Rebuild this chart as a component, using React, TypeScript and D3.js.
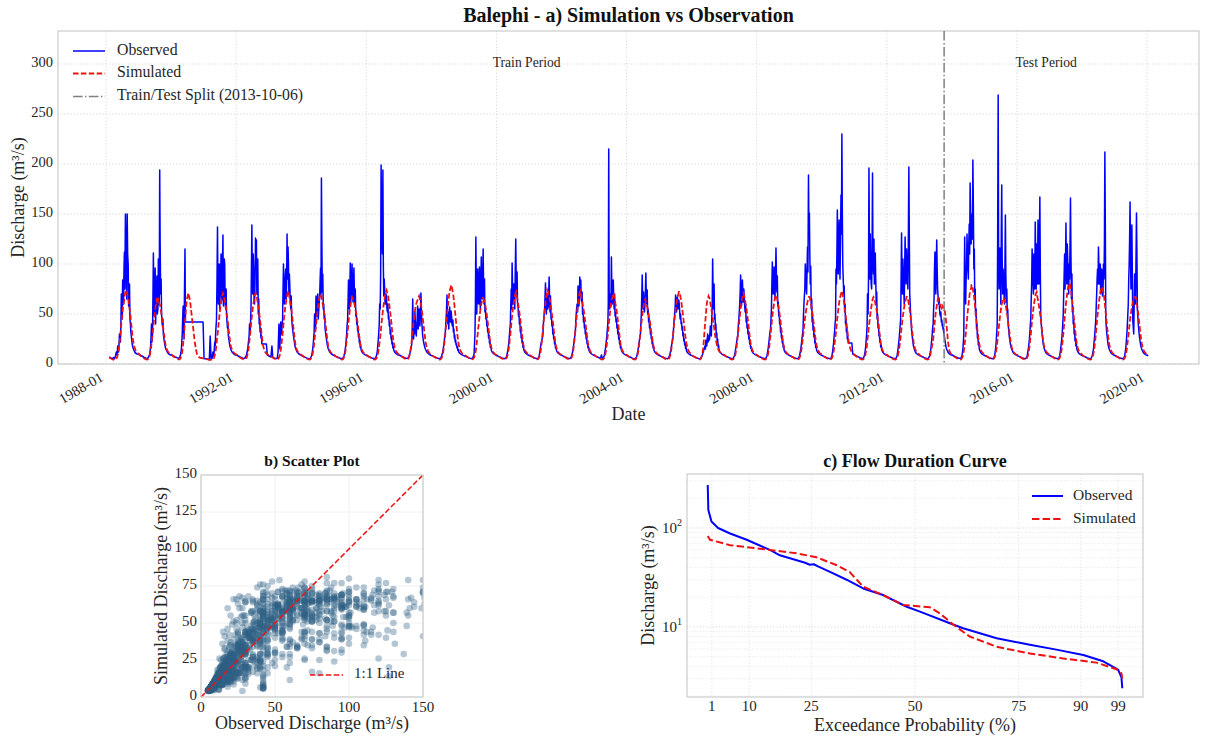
import React from 'react';
import * as d3 from 'd3';

// ---------------- DATA ----------------
// Dekadal (day 5, 15, 25 of each month) discharge values, m3/s.
// The 1988 series starts in February; 2020 only covers early January.
const years = [1988, 1989, 1990, 1991, 1992, 1993, 1994, 1995, 1996, 1997, 1998, 1999, 2000, 2001, 2002, 2003, 2004, 2005, 2006, 2007, 2008, 2009, 2010, 2011, 2012, 2013, 2014, 2015, 2016, 2017, 2018, 2019, 2020];

const observedByYear: number[][] = [
  [7, 6.5, 6, 5.8, 5.5, 6.5, 5.2, 8, 12, 9, 15, 19, 26, 38, 55, 84, 60, 112, 150, 88, 150, 100, 62, 45, 32, 24, 18, 14.5, 12.5, 11, 10.5, 10, 9.8],
  [9.5, 9, 8.5, 8, 7.5, 7, 6.6, 6.2, 5.9, 5.6, 6, 7.5, 10, 18, 40, 30, 111, 48, 96, 62, 88, 55, 74, 194, 70, 50, 38, 30, 23, 18, 14.5, 12.5, 11, 10, 9.5, 9],
  [9, 8.5, 8, 7.5, 7, 6.8, 6.4, 6, 5.8, 6.5, 9, 14, 30, 58, 25, 115, 42, 42, 42, 42, 42, 42, 42, 42, 42, 42, 42, 42, 42, 42, 42, 42, 42, 42, 42, 42],
  [5.5, 5.3, 5.2, 5, 4.8, 4.6, 4.5, 28, 5, 5.5, 12, 8, 22, 30, 45, 137, 60, 100, 72, 110, 64, 129, 80, 100, 55, 48, 36, 28, 22, 17, 14, 12, 11, 10, 9.5, 9],
  [9, 8.5, 8, 7.5, 7, 6.6, 6.2, 5.9, 5.6, 5.8, 7, 9, 13, 20, 28, 30, 55, 139, 70, 95, 60, 126, 124, 85, 50, 40, 32, 26, 20, 20, 20, 20, 20, 20, 9, 8.5],
  [8, 7.5, 7, 18, 6.5, 6.2, 5.9, 5.6, 5.4, 5.5, 12, 40, 15, 42, 30, 45, 100, 60, 88, 65, 130, 117, 70, 78, 55, 45, 35, 28, 22, 17, 14, 12, 11, 10, 9.5, 9],
  [8.5, 8, 7.5, 7, 6.6, 6.2, 5.9, 5.6, 5.3, 5.2, 6, 8, 12, 20, 32, 40, 68, 48, 70, 52, 65, 96, 186, 72, 55, 45, 35, 28, 22, 17, 14, 12, 11, 10, 9.5, 9],
  [8.5, 8, 7.6, 7.2, 6.8, 6.4, 6, 5.7, 5.4, 5.2, 6, 8, 12, 19, 30, 45, 84, 55, 101, 70, 100, 62, 96, 58, 48, 40, 33, 27, 21, 16.5, 13.5, 11.8, 10.8, 10, 9.4, 9],
  [8.5, 8, 7.5, 7.1, 6.7, 6.3, 6, 5.7, 5.4, 5.3, 6.2, 8.5, 14, 25, 40, 55, 199, 126, 194, 68, 74, 60, 66, 52, 45, 38, 30, 25, 20, 16, 13.5, 11.8, 10.8, 10, 9.4, 9],
  [9, 8.5, 8, 7.5, 7.1, 6.7, 6.3, 6, 5.7, 5.5, 6.2, 8, 11, 15, 20, 65, 25, 30, 40, 28, 45, 35, 55, 38, 71, 42, 28, 22, 18, 15, 13, 11.5, 10.5, 9.8, 9.2, 8.8],
  [8.5, 8, 7.6, 7.2, 6.8, 6.4, 6, 5.7, 5.4, 5.3, 6, 8, 11, 16, 22, 30, 45, 69, 40, 35, 57, 42, 48, 38, 32, 26, 22, 19, 16, 13.5, 12, 10.8, 10, 9.4, 9, 8.6],
  [8.2, 7.8, 7.4, 7, 6.6, 6.2, 5.9, 5.6, 5.4, 5.5, 7, 10, 30, 127, 50, 95, 60, 97, 55, 107, 65, 115, 60, 52, 45, 38, 32, 26, 21, 16.5, 13.5, 11.8, 10.8, 10, 9.4, 9],
  [8.5, 8, 7.6, 7.2, 6.8, 6.4, 6, 5.7, 5.4, 5.3, 6, 8, 12, 18, 28, 40, 75, 101, 60, 80, 55, 125, 70, 60, 48, 40, 32, 26, 21, 16.5, 13.5, 11.8, 10.8, 10, 9.4, 9],
  [8.5, 8, 7.6, 7.2, 6.8, 6.4, 6, 5.7, 5.4, 5.3, 6, 8, 14, 20, 24, 28, 45, 55, 81, 50, 62, 58, 87, 52, 45, 38, 30, 25, 20, 16, 13.5, 11.8, 10.8, 10, 9.4, 9],
  [8.6, 8.1, 7.7, 7.3, 6.9, 6.5, 6.1, 5.8, 5.5, 5.4, 6.2, 8.2, 12, 18, 25, 32, 50, 60, 78, 58, 87, 84, 62, 50, 42, 36, 30, 25, 20, 16, 13.5, 11.8, 10.8, 10, 9.4, 9],
  [8.5, 8, 7.6, 7.2, 6.8, 6.4, 6, 5.7, 9, 5.4, 6, 8, 13, 20, 28, 40, 215, 55, 70, 107, 60, 84, 55, 48, 42, 36, 30, 25, 20, 16, 13.5, 11.8, 10.8, 10, 9.4, 9],
  [8.4, 7.9, 7.5, 7.1, 6.7, 6.3, 5.9, 5.6, 5.3, 5.2, 5.9, 7.8, 12, 18, 24, 30, 50, 89, 55, 62, 58, 91, 60, 50, 42, 36, 30, 25, 20, 16, 13.5, 11.8, 10.8, 10, 9.4, 9],
  [8.5, 8, 7.6, 7.2, 6.8, 6.4, 6, 5.7, 5.4, 5.3, 6, 8, 11, 16, 21, 26, 40, 50, 69, 52, 67, 58, 60, 45, 40, 34, 28, 23, 19, 15.5, 13, 11.5, 10.5, 9.8, 9.2, 8.8],
  [8.4, 7.9, 7.5, 7.1, 6.7, 6.3, 5.9, 5.6, 5.3, 5.2, 5.9, 7.8, 10, 13, 16, 15, 20, 25, 22, 28, 30, 35, 45, 105, 55, 45, 35, 28, 22, 17, 14, 12, 11, 10, 9.4, 9],
  [8.5, 8, 7.6, 7.2, 6.8, 6.4, 6, 5.7, 5.4, 5.3, 6, 8, 12, 18, 24, 30, 45, 60, 89, 58, 84, 62, 66, 52, 42, 36, 30, 25, 20, 16, 13.5, 11.8, 10.8, 10, 9.4, 9],
  [8.5, 8, 7.6, 7.2, 6.8, 6.4, 6, 5.7, 5.4, 5.3, 6, 8, 13, 20, 28, 35, 55, 102, 70, 97, 65, 116, 72, 58, 48, 40, 32, 26, 21, 16.5, 13.5, 11.8, 10.8, 10, 9.4, 9],
  [8.5, 8, 7.6, 7.2, 6.8, 6.4, 6, 5.7, 5.4, 5.3, 6, 8, 12, 18, 26, 35, 60, 75, 90, 70, 117, 189, 151, 80, 55, 42, 34, 27, 21, 16.5, 13.5, 11.8, 10.8, 10, 9.4, 9],
  [8.5, 8, 7.6, 7.2, 6.8, 6.4, 6, 5.7, 5.4, 5.3, 6, 8, 14, 22, 32, 45, 80, 154, 90, 144, 85, 169, 230, 100, 70, 52, 40, 32, 25, 21, 21, 21, 21, 21, 10, 9.5],
  [9, 8.5, 8, 7.5, 7.1, 6.7, 6.3, 6, 5.7, 5.5, 6.2, 8.5, 14, 24, 38, 50, 196, 85, 100, 75, 191, 90, 80, 111, 60, 45, 36, 28, 22, 17, 14, 12, 11, 10, 9.4, 9],
  [8.5, 8, 7.6, 7.2, 6.8, 6.4, 6, 5.7, 5.4, 5.3, 6, 8, 14, 22, 32, 45, 131, 70, 90, 60, 127, 80, 95, 75, 197, 70, 50, 35, 26, 19, 15, 12.5, 11, 10, 9.4, 9],
  [8.5, 8, 7.6, 7.2, 6.8, 6.4, 6, 5.7, 5.4, 5.3, 6, 8, 12, 20, 30, 40, 65, 112, 70, 124, 75, 60, 55, 48, 42, 38, 34, 30, 24, 18, 14.5, 12.5, 11, 10, 9.4, 9],
  [9, 8.5, 8, 7.5, 7.1, 6.7, 6.3, 6, 5.7, 5.5, 6.2, 8.5, 15, 30, 127, 60, 95, 110, 85, 140, 181, 120, 150, 204, 95, 65, 48, 35, 26, 19, 15, 12.5, 11, 10, 9.4, 9],
  [8.5, 8, 7.6, 7.2, 6.8, 6.4, 6, 5.7, 5.4, 5.3, 6, 8, 14, 24, 40, 269, 75, 116, 60, 179, 70, 85, 60, 149, 62, 50, 40, 30, 23, 18, 14.5, 12.5, 11, 10, 9.4, 9],
  [8.5, 8, 7.6, 7.2, 6.8, 6.4, 6, 5.7, 5.4, 5.3, 6, 8, 13, 20, 30, 45, 80, 100, 70, 90, 142, 75, 95, 144, 80, 167, 50, 35, 26, 19, 15, 12.5, 11, 10, 9.4, 9],
  [8.5, 8, 7.6, 7.2, 6.8, 6.4, 6, 5.7, 5.4, 5.3, 6, 8, 14, 22, 32, 50, 90, 75, 141, 80, 105, 70, 85, 166, 65, 52, 40, 30, 23, 18, 14.5, 12.5, 11, 10, 9.4, 9],
  [8.5, 8, 7.6, 7.2, 6.8, 6.4, 6, 5.7, 5.4, 5.3, 6, 8, 12, 20, 30, 45, 70, 95, 117, 80, 100, 75, 90, 70, 85, 212, 48, 32, 24, 18, 14.5, 12.5, 11, 10, 9.4, 9],
  [8.5, 8, 7.6, 7.2, 6.8, 6.4, 6, 5.7, 5.4, 5.3, 6, 8, 14, 24, 38, 60, 100, 162, 75, 139, 45, 30, 90, 60, 151, 55, 40, 30, 23, 18, 14.5, 12.5, 11, 10, 9.4, 9],
  [8.8, 8.2],
];

const simulatedByYear: number[][] = [
  [6.5, 6, 5.5, 5, 4.6, 4.3, 4.1, 4.4, 5.2, 7, 10.5, 17, 25, 35, 45, 53, 60, 66, 71, 74, 70, 65, 59, 52, 44, 35, 27, 21, 17, 14, 12.5, 11.5, 10.5],
  [10, 9, 8, 7.2, 6.5, 6, 5.5, 5, 4.7, 4.5, 4.8, 6, 8.5, 13, 20, 29, 38, 47, 54, 60, 66, 63, 64, 60, 55, 49, 42, 35, 28, 22, 17, 14, 12.5, 11.5, 10.5, 10],
  [9.5, 8.5, 7.8, 7, 6.4, 5.9, 5.4, 5, 4.7, 4.6, 5.5, 8, 12, 20, 30, 42, 54, 63, 68, 70, 66, 60, 52, 44, 36, 28, 21, 15, 11, 8.5, 7.2, 6.5, 6.2, 6, 5.8, 5.6],
  [5.4, 5.2, 5, 4.8, 4.6, 4.4, 4.2, 4.1, 4, 4.2, 4.8, 6, 8.5, 13, 20, 29, 38, 47, 55, 61, 67, 71, 68, 64, 58, 52, 45, 37, 29, 22, 17, 14, 12.5, 11.5, 10.5, 10],
  [9.5, 8.5, 7.8, 7, 6.4, 5.9, 5.4, 5, 4.7, 4.5, 4.8, 6, 8.5, 13, 20, 29, 39, 48, 56, 62, 67, 71, 69, 64, 58, 51, 44, 36, 28, 21, 16, 13, 11.5, 10.5, 9.8, 9.2],
  [8.8, 8.2, 7.6, 7, 6.4, 5.9, 5.4, 5, 4.7, 4.6, 5, 6.5, 9, 14, 21, 30, 40, 49, 57, 63, 68, 72, 70, 65, 59, 52, 44, 36, 28, 21, 16, 13.5, 12, 11, 10, 9.5],
  [9, 8.3, 7.6, 7, 6.4, 5.9, 5.4, 5, 4.7, 4.5, 4.9, 6.2, 8.8, 13.5, 20, 29, 39, 48, 56, 62, 67, 70, 68, 63, 57, 51, 44, 36, 28, 21, 16, 13.5, 12, 11, 10, 9.5],
  [9, 8.3, 7.6, 7, 6.4, 5.9, 5.4, 5, 4.7, 4.5, 5, 6.5, 9.5, 15, 23, 32, 41, 50, 57, 63, 67, 65, 62, 58, 53, 47, 41, 34, 27, 21, 16.5, 13.5, 12, 11, 10, 9.5],
  [9, 8.3, 7.6, 7, 6.4, 5.9, 5.4, 5, 4.7, 4.5, 4.8, 5.8, 8, 12.5, 19, 27, 36, 45, 53, 60, 66, 71, 74, 71, 66, 59, 52, 44, 35, 27, 21, 16.5, 13.5, 12, 11, 10],
  [9.5, 8.7, 8, 7.3, 6.7, 6.1, 5.6, 5.2, 4.9, 4.7, 5.2, 7, 10.5, 16, 24, 33, 42, 50, 56, 60, 63, 65, 68, 65, 60, 54, 47, 39, 31, 24, 18.5, 15, 13, 11.5, 10.5, 9.8],
  [9, 8.3, 7.6, 7, 6.4, 5.9, 5.4, 5, 4.7, 4.5, 4.8, 6, 8.5, 13, 20, 29, 39, 49, 58, 66, 72, 76, 78, 74, 68, 60, 51, 42, 33, 25, 19, 15, 13, 11.5, 10.5, 10],
  [9.5, 8.7, 8, 7.3, 6.7, 6.1, 5.6, 5.2, 4.9, 4.7, 5.1, 6.5, 9, 14, 21, 30, 39, 47, 54, 60, 64, 66, 64, 60, 55, 49, 42, 35, 28, 21, 16.5, 13.5, 12, 11, 10, 9.5],
  [9, 8.3, 7.6, 7, 6.4, 5.9, 5.4, 5, 4.7, 4.5, 4.9, 6.2, 8.8, 13.5, 20, 29, 39, 48, 56, 62, 67, 71, 69, 64, 58, 52, 45, 37, 29, 22, 17, 14, 12.5, 11.5, 10.5, 10],
  [9.5, 8.7, 8, 7.3, 6.7, 6.1, 5.6, 5.2, 4.9, 4.7, 5, 6.5, 9.5, 15, 23, 33, 43, 53, 61, 68, 74, 72, 68, 63, 57, 50, 43, 35, 28, 21, 16.5, 13.5, 12, 11, 10, 9.5],
  [9, 8.3, 7.6, 7, 6.4, 5.9, 5.4, 5, 4.7, 4.5, 5, 6.5, 9.5, 15, 23, 33, 43, 52, 60, 67, 72, 70, 66, 61, 55, 49, 42, 35, 28, 21, 16.5, 13.5, 12, 11, 10, 9.5],
  [9, 8.3, 7.6, 7, 6.4, 5.9, 5.4, 5, 4.7, 4.5, 4.9, 6.2, 8.8, 13.5, 20, 29, 39, 48, 56, 63, 66, 70, 68, 63, 57, 51, 44, 36, 28, 21, 16, 13.5, 12, 11, 10, 9.5],
  [9, 8.3, 7.6, 7, 6.4, 5.9, 5.4, 5, 4.7, 4.5, 5, 6.5, 9.5, 14.5, 22, 31, 40, 48, 55, 60, 64, 62, 59, 55, 50, 45, 39, 32, 26, 20, 16, 13.5, 12, 11, 10, 9.5],
  [9, 8.3, 7.6, 7, 6.4, 5.9, 5.4, 5, 4.7, 4.5, 4.8, 6, 8.5, 13, 20, 28, 37, 46, 54, 61, 66, 70, 72, 69, 64, 57, 50, 42, 34, 26, 20, 16, 13.5, 12, 11, 10],
  [9, 8.3, 7.6, 7, 6.4, 5.9, 5.4, 5, 4.7, 4.6, 5.5, 8, 12, 20, 32, 44, 55, 63, 66, 67, 64, 58, 52, 46, 40, 33, 27, 22, 18, 15, 13, 11.8, 11, 10.3, 9.8, 9.3],
  [9, 8.3, 7.6, 7, 6.4, 5.9, 5.4, 5, 4.7, 4.5, 4.9, 6.2, 8.8, 13.5, 20, 29, 38, 47, 55, 62, 67, 71, 68, 63, 57, 51, 44, 36, 28, 21, 16.5, 13.5, 12, 11, 10, 9.5],
  [9, 8.3, 7.6, 7, 6.4, 5.9, 5.4, 5, 4.7, 4.5, 4.9, 6.2, 8.8, 13.5, 20, 29, 38, 47, 55, 61, 66, 69, 67, 62, 56, 50, 43, 35, 28, 21, 16.5, 13.5, 12, 11, 10, 9.5],
  [9, 8.3, 7.6, 7, 6.4, 5.9, 5.4, 5, 4.7, 4.5, 4.8, 6, 8.5, 13, 19, 27, 36, 44, 51, 57, 62, 65, 67, 64, 59, 53, 46, 39, 31, 24, 18.5, 15, 13, 11.5, 10.5, 10],
  [9, 8.3, 7.6, 7, 6.4, 5.9, 5.4, 5, 4.7, 4.5, 4.8, 6, 8.5, 13, 20, 28, 37, 46, 54, 61, 66, 70, 72, 69, 64, 57, 50, 42, 34, 26, 20, 16, 13.5, 12, 11, 10],
  [9, 8.3, 7.6, 7, 6.4, 5.9, 5.4, 5, 4.7, 4.5, 4.9, 6.2, 8.8, 13.5, 20, 29, 38, 46, 53, 59, 64, 67, 65, 61, 56, 50, 43, 36, 28, 21, 16.5, 13.5, 12, 11, 10, 9.5],
  [9, 8.3, 7.6, 7, 6.4, 5.9, 5.4, 5, 4.7, 4.5, 4.8, 6, 8.5, 13, 19, 27, 36, 44, 51, 57, 62, 65, 67, 65, 60, 54, 47, 39, 31, 24, 18.5, 15, 13, 11.5, 10.5, 10],
  [9, 8.3, 7.6, 7, 6.4, 5.9, 5.4, 5, 4.7, 4.5, 5, 6.5, 9.5, 14, 19, 24, 34, 44, 52, 58, 64, 62, 60, 58, 58, 57, 57, 55, 52, 46, 36, 26, 18, 13, 11, 10],
  [9, 8.3, 7.6, 7, 6.4, 5.9, 5.4, 5, 4.7, 4.5, 4.8, 6, 8.5, 13, 20, 29, 39, 49, 58, 66, 72, 76, 79, 75, 69, 61, 52, 43, 34, 26, 20, 16, 13.5, 12, 11, 10],
  [9.5, 8.7, 8, 7.3, 6.7, 6.1, 5.6, 5.2, 4.9, 4.7, 5.1, 6.5, 9, 14, 21, 30, 39, 47, 54, 60, 64, 66, 64, 60, 55, 49, 42, 35, 28, 21, 16.5, 13.5, 12, 11, 10, 9.5],
  [9, 8.3, 7.6, 7, 6.4, 5.9, 5.4, 5, 4.7, 4.5, 4.9, 6.2, 8.8, 13.5, 20, 29, 39, 48, 56, 62, 67, 71, 69, 64, 58, 52, 45, 37, 29, 22, 17, 14, 12.5, 11.5, 10.5, 10],
  [9, 8.3, 7.6, 7, 6.4, 5.9, 5.4, 5, 4.7, 4.5, 4.8, 6, 8.5, 13, 20, 30, 40, 51, 60, 68, 74, 78, 81, 77, 70, 62, 53, 44, 35, 27, 20, 16, 13.5, 12, 11, 10],
  [9, 8.3, 7.6, 7, 6.4, 5.9, 5.4, 5, 4.7, 4.5, 4.8, 6, 8.5, 13, 20, 29, 39, 49, 57, 65, 71, 75, 77, 74, 68, 60, 51, 42, 33, 25, 19, 15, 13, 11.5, 10.5, 10],
  [9, 8.3, 7.6, 7, 6.4, 5.9, 5.4, 5, 4.7, 4.5, 4.8, 5.8, 8, 12.5, 19, 27, 36, 44, 51, 57, 61, 64, 66, 67, 63, 57, 50, 42, 34, 26, 20, 16, 13.5, 12, 11, 10],
  [9.5, 8.8],
];

// Additional wet-season values (May 10 .. Oct 30, days 10/20/30), between the dekad readings above.
const observedMidByYear: number[][] = [
  [18, 12, 30, 22, 70, 45, 62, 95, 75, 120, 65, 110, 58, 80, 40, 28, 20, 16],
  [14, 28, 22, 65, 55, 80, 40, 75, 50, 105, 60, 120, 85, 42, 45, 26, 20, 16],
  [45, 35, 70, 42, 42, 42, 42, 42, 42, 42, 42, 42, 42, 42, 42, 42, 42, 42],
  [18, 38, 80, 75, 90, 55, 88, 70, 95, 58, 105, 60, 75, 42, 40, 25, 19, 15.5],
  [16, 24, 40, 42, 95, 85, 110, 65, 80, 95, 70, 105, 65, 45, 36, 29, 20, 20],
  [28, 35, 38, 75, 72, 70, 95, 80, 85, 100, 90, 62, 68, 40, 32, 25, 19, 15.5],
  [16, 26, 50, 35, 55, 62, 45, 60, 80, 70, 120, 90, 60, 50, 32, 25, 19, 15.5],
  [15, 24, 38, 62, 60, 75, 62, 85, 72, 80, 70, 75, 52, 44, 36, 30, 24, 18.5],
  [20, 32, 60, 90, 150, 110, 100, 85, 60, 70, 55, 60, 48, 42, 34, 27, 22, 17.5],
  [13, 17, 35, 40, 35, 52, 34, 38, 58, 48, 42, 50, 55, 35, 25, 20, 16.5, 14],
  [13, 19, 28, 38, 55, 50, 52, 48, 45, 53, 40, 44, 35, 29, 24, 20, 17.5, 14.5],
  [60, 75, 70, 65, 80, 62, 78, 70, 82, 75, 85, 56, 48, 41, 35, 29, 23, 18.5],
  [15, 22, 34, 58, 55, 78, 72, 62, 90, 85, 92, 58, 52, 44, 36, 29, 23, 18.5],
  [17, 22, 26, 38, 50, 68, 60, 70, 55, 72, 65, 68, 48, 42, 34, 27, 22, 17.5],
  [15, 21, 28, 42, 56, 52, 70, 66, 75, 65, 72, 55, 46, 39, 33, 27, 22, 17.5],
  [16, 24, 34, 60, 70, 62, 58, 75, 78, 66, 70, 52, 45, 39, 33, 27, 22, 17.5],
  [15, 21, 27, 40, 68, 65, 72, 52, 70, 68, 74, 55, 46, 39, 33, 27, 22, 17.5],
  [13, 18, 23, 33, 46, 58, 60, 62, 55, 64, 52, 50, 42, 37, 31, 25, 21, 17],
  [11.5, 15, 18, 24, 18, 30, 26, 24, 38, 28, 60, 70, 80, 50, 40, 31, 25, 19],
  [15, 21, 27, 40, 52, 72, 70, 65, 72, 75, 58, 60, 47, 39, 33, 27, 22, 17.5],
  [16, 24, 32, 45, 80, 75, 82, 78, 85, 90, 88, 62, 52, 44, 36, 29, 23, 18.5],
  [15, 22, 30, 50, 68, 100, 78, 95, 92, 130, 110, 98, 65, 48, 38, 30, 23, 18.5],
  [18, 28, 40, 95, 110, 100, 125, 105, 120, 130, 150, 85, 78, 60, 45, 36, 28, 21],
  [18, 30, 70, 85, 120, 130, 80, 110, 105, 125, 95, 85, 72, 50, 40, 31, 25, 19],
  [18, 26, 38, 85, 95, 105, 75, 95, 100, 115, 88, 120, 130, 60, 42, 30, 22, 17],
  [15, 24, 36, 55, 95, 85, 100, 95, 68, 66, 50, 52, 44, 40, 36, 27, 21, 16],
  [22, 80, 90, 85, 130, 98, 120, 110, 150, 140, 125, 160, 115, 75, 55, 40, 30, 22],
  [18, 32, 120, 110, 95, 88, 130, 105, 95, 70, 100, 90, 75, 55, 35, 26, 20, 16],
  [16, 24, 38, 65, 115, 85, 110, 75, 110, 120, 80, 105, 125, 95, 42, 30, 22, 17],
  [18, 26, 40, 72, 110, 100, 95, 120, 85, 100, 120, 110, 90, 58, 45, 34, 26, 20],
  [15, 25, 36, 58, 85, 80, 98, 92, 70, 95, 68, 100, 120, 140, 38, 28, 20, 16],
  [18, 30, 48, 85, 125, 110, 100, 95, 38, 60, 75, 100, 110, 48, 35, 26, 20, 16],
  [],
];

const simulatedMidByYear: number[][] = [
  [9, 13, 22, 29, 41, 48, 58, 62, 70, 73, 71, 68, 63, 55, 49, 40, 30, 24],
  [11, 16, 25, 33, 43, 50, 58, 64, 62, 66, 61, 58, 52, 46, 38, 31, 25, 19],
  [16, 25, 36, 48, 59, 66, 71, 68, 63, 56, 48, 40, 32, 24, 18, 13, 9.5, 7.8],
  [11, 16, 25, 33, 43, 51, 58, 65, 69, 70, 66, 61, 55, 48, 41, 33, 25, 19],
  [11, 16, 25, 34, 44, 52, 59, 65, 70, 69, 67, 61, 55, 47, 40, 32, 24, 18],
  [11.5, 17, 26, 35, 45, 53, 60, 66, 71, 73, 67, 62, 56, 48, 40, 32, 24, 18],
  [11, 16.5, 25, 34, 43, 52, 59, 65, 69, 70, 65, 60, 54, 47, 40, 32, 24, 18],
  [12, 19, 27, 37, 46, 54, 60, 66, 66, 63, 60, 55, 50, 44, 37, 30, 24, 18.5],
  [10, 15.5, 23, 31, 41, 49, 57, 63, 69, 73, 72, 69, 62, 56, 48, 40, 31, 24],
  [13, 20, 28, 38, 46, 53, 58, 62, 64, 67, 66, 63, 57, 50, 43, 35, 27, 21],
  [10.5, 16, 24, 34, 44, 54, 62, 70, 75, 79, 76, 71, 64, 55, 46, 37, 29, 22],
  [11.5, 17, 26, 35, 43, 51, 57, 62, 66, 65, 62, 58, 52, 45, 38, 31, 24, 19],
  [11, 16.5, 25, 34, 44, 52, 59, 65, 70, 72, 66, 61, 55, 48, 41, 33, 25, 19],
  [12, 19, 28, 38, 48, 57, 65, 71, 73, 70, 65, 60, 53, 46, 39, 31, 24, 18.5],
  [12, 19, 28, 38, 48, 56, 64, 70, 73, 68, 63, 58, 52, 45, 38, 31, 24, 18.5],
  [11, 16.5, 25, 34, 44, 52, 60, 65, 69, 71, 65, 60, 54, 47, 40, 32, 24, 18],
  [12, 18, 27, 36, 44, 52, 58, 62, 65, 60, 57, 53, 47, 42, 35, 29, 23, 18],
  [10.5, 16, 24, 32, 42, 50, 58, 64, 68, 72, 71, 66, 60, 53, 46, 38, 30, 23],
  [16, 26, 38, 50, 60, 65, 68, 66, 61, 55, 49, 43, 37, 30, 24, 20, 16.5, 14],
  [11, 16.5, 25, 34, 43, 51, 59, 65, 69, 70, 66, 60, 54, 47, 40, 32, 24, 18.5],
  [11, 16.5, 25, 34, 43, 51, 58, 64, 68, 68, 64, 59, 53, 46, 39, 31, 24, 18.5],
  [10.5, 16, 23, 32, 40, 48, 54, 60, 64, 67, 66, 61, 56, 49, 42, 35, 27, 21],
  [10.5, 16, 24, 32, 42, 50, 58, 64, 68, 73, 71, 66, 60, 53, 46, 38, 30, 23],
  [11, 16.5, 25, 34, 42, 50, 56, 62, 66, 66, 63, 58, 53, 46, 39, 32, 24, 18.5],
  [10.5, 16, 23, 32, 40, 48, 54, 60, 64, 67, 66, 63, 57, 50, 43, 35, 27, 21],
  [12, 16.5, 21, 29, 39, 48, 55, 61, 65, 60, 59, 60, 56, 58, 55, 54, 49, 41],
  [10.5, 16, 24, 34, 44, 54, 62, 70, 74, 79, 77, 72, 65, 56, 47, 38, 30, 23],
  [11.5, 17, 26, 35, 43, 51, 57, 62, 66, 65, 62, 58, 52, 45, 38, 31, 24, 19],
  [11, 16.5, 25, 34, 44, 52, 59, 65, 70, 72, 66, 61, 55, 48, 41, 33, 25, 19],
  [10.5, 16, 25, 35, 45, 55, 64, 71, 77, 80, 79, 74, 66, 58, 48, 40, 31, 23],
  [10.5, 16, 24, 34, 44, 53, 61, 68, 74, 77, 76, 71, 64, 55, 46, 37, 29, 22],
  [10, 15.5, 23, 31, 40, 48, 54, 59, 63, 65, 67, 65, 60, 54, 46, 38, 30, 23],
  [],
];

const splitDate = new Date(2013, 9, 6);
const splitLabel = 'Train/Test Split (2013-10-06)';
const xTickYears = [1988, 1992, 1996, 2000, 2004, 2008, 2012, 2016, 2020];
const yTicksTop = [0, 50, 100, 150, 200, 250, 300];

const scatterXTicks = [0, 50, 100, 150];
const scatterYTicks = [0, 25, 50, 75, 100, 125, 150];

// Flow duration curve read from panel c): exceedance probability (%) and discharge (m3/s)
const fdcObsPct = [0, 0.15, 0.9, 2.5, 5.4, 9.4, 15, 17.4, 23.5, 24.6, 25.6, 26.6, 29.5, 33.5, 37.5, 42.3, 48, 51.2, 58.4, 61.6, 69.7, 77.7, 84.1, 90.6, 95.4, 99, 99.8, 100];
const fdcObsVal = [272, 152, 116, 100, 88, 76, 60, 53, 44.5, 42.5, 43, 41, 36, 30, 24.5, 21, 16, 14.3, 10.9, 9.7, 7.7, 6.6, 5.9, 5.2, 4.5, 3.7, 3.1, 2.4];
const fdcSimPct = [0, 0.55, 5.4, 15, 21.4, 26.2, 31, 34.2, 37.5, 42.3, 47.1, 53.6, 56, 59.2, 63.2, 69.7, 77.7, 85.8, 93.8, 98.6, 99.8, 100];
const fdcSimVal = [83, 76, 67, 60, 55.5, 50.6, 42.3, 36, 25.5, 21, 16.7, 15.8, 13.7, 10.6, 8, 6.3, 5.4, 4.8, 4.36, 3.74, 3.4, 3.0];
const fdcXTicks = [1, 10, 25, 50, 75, 90, 99];

// ---------------- STYLE ----------------
const FONT = '"Liberation Serif", "Times New Roman", serif';
const BLUE = '#0000ff';
const RED = '#ee1111';
const GRID = '#cfcfcf';
const FRAME = '#cccccc';
const TXT = '#262626';

type Pt = { date: Date; v: number };

function buildSeries() {
  const obs: Pt[] = [];
  const sim: Pt[] = [];
  years.forEach((yr, yi) => {
    const o = observedByYear[yi];
    const s = simulatedByYear[yi];
    const offset = yi === 0 ? 36 - o.length : 0;
    o.forEach((v, k) => {
      const i = offset + k;
      const d = new Date(yr, Math.floor(i / 3), 5 + 10 * (i % 3));
      obs.push({ date: d, v });
      sim.push({ date: d, v: s[k] });
    });
    const om = observedMidByYear[yi];
    const sm = simulatedMidByYear[yi];
    om.forEach((v, k) => {
      const i = 12 + k;
      const d = new Date(yr, Math.floor(i / 3), 10 + 10 * (i % 3));
      obs.push({ date: d, v });
      sim.push({ date: d, v: sm[k] });
    });
  });
  const order = d3.range(obs.length).sort((a, b) => obs[a].date.getTime() - obs[b].date.getTime());
  return { obs: order.map((i) => obs[i]), sim: order.map((i) => sim[i]) };
}

export default function App() {
  const { obs, sim } = buildSeries();

  // ---- panel a ----
  const A = { l: 58, r: 1199, t: 31, b: 364 };
  const x = d3.scaleTime().domain([new Date(1986, 6, 10), new Date(2021, 7, 7)]).range([A.l, A.r]);
  const y = d3.scaleLinear().domain([0, 333]).range([A.b, A.t]);
  const line = d3.line<Pt>().x((d) => x(d.date)).y((d) => y(d.v));
  const xTicks = xTickYears.map((yr) => new Date(yr, 0, 1));
  const startDate = obs[0].date;
  const endDate = obs[obs.length - 1].date;
  const trainMid = new Date((startDate.getTime() + splitDate.getTime()) / 2);
  const testMid = new Date((splitDate.getTime() + endDate.getTime()) / 2);

  // ---- panel b ----
  const B = { l: 201, r: 423, t: 475, b: 697 };
  const sx = d3.scaleLinear().domain([0, 150]).range([B.l, B.r]);
  const sy = d3.scaleLinear().domain([0, 150]).range([B.b, B.t]);
  const pairs = obs.map((o, i) => [o.v, sim[i].v]).filter((p) => p[0] <= 152 && p[1] <= 152);

  // ---- panel c ----
  const C = { l: 687, r: 1143, t: 474, b: 697 };
  const fx = d3.scaleLinear().domain([-5, 105]).range([C.l, C.r]);
  const fy = d3.scaleLog().domain([1.96, 351]).range([C.b, C.t]);
  const fdcLine = d3.line<number>();
  const obsFdc = fdcObsPct.map((p, i) => [fx(p), fy(fdcObsVal[i])] as [number, number]);
  const simFdc = fdcSimPct.map((p, i) => [fx(p), fy(fdcSimVal[i])] as [number, number]);
  const fdcMajor = [10, 100];
  const fdcMinor = [2, 3, 4, 5, 6, 7, 8, 9, 20, 30, 40, 50, 60, 70, 80, 90, 200, 300];

  return (
    <svg
      width={1208}
      height={742}
      style={{ position: 'absolute', left: 0, top: 0, background: '#fff' }}
      fontFamily={FONT}
    >
      <defs>
        <clipPath id="clipB">
          <rect x={B.l} y={B.t} width={B.r - B.l} height={B.b - B.t} />
        </clipPath>
        <clipPath id="clipC">
          <rect x={C.l} y={C.t} width={C.r - C.l} height={C.b - C.t} />
        </clipPath>
      </defs>
      <rect x={0} y={0} width={1208} height={742} fill="#fff" />

      {/* ================= PANEL A ================= */}
      <g>
        {xTicks.map((d, i) => (
          <line key={'gx' + i} x1={x(d)} x2={x(d)} y1={A.t} y2={A.b} stroke={GRID} strokeWidth={0.8} strokeDasharray="1.2,2" />
        ))}
        {yTicksTop.map((v) => (
          <line key={'gy' + v} x1={A.l} x2={A.r} y1={y(v)} y2={y(v)} stroke={GRID} strokeWidth={0.8} strokeDasharray="1.2,2" />
        ))}
        <rect x={A.l} y={A.t} width={A.r - A.l} height={A.b - A.t} fill="none" stroke={FRAME} strokeWidth={1.2} />

        <path d={line(obs) || ''} fill="none" stroke={BLUE} strokeWidth={1.5} strokeLinejoin="round" />
        <path d={line(sim) || ''} fill="none" stroke={RED} strokeWidth={1.8} strokeDasharray="5.5,2.4" />
        <line x1={x(splitDate)} x2={x(splitDate)} y1={A.t} y2={A.b} stroke="#808080" strokeWidth={1.5} strokeDasharray="9.6,2.4,1.5,2.4" />

        <text x={x(trainMid)} y={y(300)} textAnchor="middle" dominantBaseline="middle" fontSize={13.6} fill={TXT}>Train Period</text>
        <text x={x(testMid)} y={y(300)} textAnchor="middle" dominantBaseline="middle" fontSize={13.6} fill={TXT}>Test Period</text>

        {yTicksTop.map((v) => (
          <text key={'ty' + v} x={A.l - 5} y={y(v)} textAnchor="end" dominantBaseline="middle" fontSize={14.5} fill={TXT}>{v}</text>
        ))}
        {xTicks.map((d, i) => (
          <text
            key={'tx' + i}
            transform={`translate(${x(d) - 7},${A.b + 7}) rotate(-30)`}
            textAnchor="end"
            dominantBaseline="hanging"
            fontSize={14.5}
            fill={TXT}
          >
            {d3.timeFormat('%Y-%m')(d)}
          </text>
        ))}
        <text x={(A.l + A.r) / 2} y={17.5} textAnchor="middle" dominantBaseline="middle" fontSize={20} fontWeight="bold" fill="#111">
          Balephi - a) Simulation vs Observation
        </text>
        <text x={(A.l + A.r) / 2} y={416} textAnchor="middle" dominantBaseline="middle" fontSize={18} fill={TXT}>Date</text>
        <text transform={`translate(20,${(A.t + A.b) / 2}) rotate(-90)`} textAnchor="middle" dominantBaseline="middle" fontSize={18} fill={TXT}>
          Discharge (m³/s)
        </text>

        {/* legend */}
        <line x1={73} x2={105} y1={51} y2={51} stroke={BLUE} strokeWidth={1.5} />
        <text x={117} y={51} dominantBaseline="middle" fontSize={15.8} fill={TXT}>Observed</text>
        <line x1={73} x2={105} y1={73.5} y2={73.5} stroke={RED} strokeWidth={1.8} strokeDasharray="5.5,2.4" />
        <text x={117} y={73.5} dominantBaseline="middle" fontSize={15.8} fill={TXT}>Simulated</text>
        <line x1={73} x2={105} y1={96.5} y2={96.5} stroke="#808080" strokeWidth={1.5} strokeDasharray="9.6,2.4,1.5,2.4" />
        <text x={117} y={96.5} dominantBaseline="middle" fontSize={15.8} fill={TXT}>{splitLabel}</text>
      </g>

      {/* ================= PANEL B ================= */}
      <g>
        {scatterXTicks.map((v) => (
          <line key={'bgx' + v} x1={sx(v)} x2={sx(v)} y1={B.t} y2={B.b} stroke="#ececec" strokeWidth={0.8} />
        ))}
        {scatterYTicks.map((v) => (
          <line key={'bgy' + v} x1={B.l} x2={B.r} y1={sy(v)} y2={sy(v)} stroke="#ececec" strokeWidth={0.8} />
        ))}
        <g clipPath="url(#clipB)">
          {pairs.map((p, i) => (
            <circle key={'pt' + i} cx={sx(p[0])} cy={sy(p[1])} r={3.3} fill="#2f6186" fillOpacity={0.36} />
          ))}
        </g>
        <line x1={sx(0)} y1={sy(0)} x2={sx(150)} y2={sy(150)} stroke={RED} strokeWidth={1.5} strokeDasharray="5.5,2.4" />
        <rect x={B.l} y={B.t} width={B.r - B.l} height={B.b - B.t} fill="none" stroke={FRAME} strokeWidth={1.2} />
        {scatterXTicks.map((v) => (
          <text key={'bx' + v} x={sx(v)} y={B.b + 12} textAnchor="middle" dominantBaseline="middle" fontSize={15} fill={TXT}>{v}</text>
        ))}
        {scatterYTicks.map((v) => (
          <text key={'by' + v} x={B.l - 4} y={sy(v)} textAnchor="end" dominantBaseline="middle" fontSize={15} fill={TXT}>{v}</text>
        ))}
        <text x={(B.l + B.r) / 2} y={462} textAnchor="middle" dominantBaseline="middle" fontSize={15.5} fontWeight="bold" fill="#111">b) Scatter Plot</text>
        <text x={(B.l + B.r) / 2} y={725} textAnchor="middle" dominantBaseline="middle" fontSize={18} fill={TXT}>Observed Discharge (m³/s)</text>
        <text transform={`translate(163,${(B.t + B.b) / 2}) rotate(-90)`} textAnchor="middle" dominantBaseline="middle" fontSize={18} fill={TXT}>
          Simulated Discharge (m³/s)
        </text>
        <line x1={310} x2={343} y1={675} y2={675} stroke={RED} strokeWidth={1.5} strokeDasharray="5.5,2.4" />
        <text x={354} y={675} dominantBaseline="middle" fontSize={15} fill={TXT}>1:1 Line</text>
      </g>

      {/* ================= PANEL C ================= */}
      <g>
        {fdcMinor.map((v) => (
          <line key={'cmin' + v} x1={C.l} x2={C.r} y1={fy(v)} y2={fy(v)} stroke="#dedede" strokeWidth={0.7} strokeDasharray="1,1.6" />
        ))}
        {fdcMajor.map((v) => (
          <line key={'cmaj' + v} x1={C.l} x2={C.r} y1={fy(v)} y2={fy(v)} stroke={GRID} strokeWidth={0.8} strokeDasharray="1.2,2" />
        ))}
        {fdcXTicks.map((v) => (
          <line key={'cgx' + v} x1={fx(v)} x2={fx(v)} y1={C.t} y2={C.b} stroke="#dcdcdc" strokeWidth={0.8} strokeDasharray="1.2,2" />
        ))}
        <rect x={C.l} y={C.t} width={C.r - C.l} height={C.b - C.t} fill="none" stroke={FRAME} strokeWidth={1.2} />
        <g clipPath="url(#clipC)">
          <path d={fdcLine(obsFdc) || ''} fill="none" stroke={BLUE} strokeWidth={2} strokeLinejoin="round" />
          <path d={fdcLine(simFdc) || ''} fill="none" stroke={RED} strokeWidth={2} strokeDasharray="7.4,3.2" />
        </g>
        {fdcXTicks.map((v) => (
          <text key={'cx' + v} x={fx(v)} y={C.b + 11} textAnchor="middle" dominantBaseline="middle" fontSize={15} fill={TXT}>{v}</text>
        ))}
        {fdcMajor.map((v) => (
          <text key={'cy' + v} x={C.l - 5} y={fy(v) + 2} textAnchor="end" dominantBaseline="middle" fontSize={15} fill={TXT}>
            10
            <tspan dy={-6} fontSize={10}>{Math.round(Math.log10(v))}</tspan>
          </text>
        ))}
        <text x={(C.l + C.r) / 2} y={463} textAnchor="middle" dominantBaseline="middle" fontSize={18} fontWeight="bold" fill="#111">c) Flow Duration Curve</text>
        <text x={(C.l + C.r) / 2} y={727} textAnchor="middle" dominantBaseline="middle" fontSize={18} fill={TXT}>Exceedance Probability (%)</text>
        <text transform={`translate(650,${(C.t + C.b) / 2}) rotate(-90)`} textAnchor="middle" dominantBaseline="middle" fontSize={18} fill={TXT}>
          Discharge (m³/s)
        </text>
        <line x1={1032} x2={1063} y1={496} y2={496} stroke={BLUE} strokeWidth={2} />
        <text x={1073} y={496} dominantBaseline="middle" fontSize={15.5} fill={TXT}>Observed</text>
        <line x1={1032} x2={1063} y1={519} y2={519} stroke={RED} strokeWidth={2} strokeDasharray="7.4,3.2" />
        <text x={1073} y={519} dominantBaseline="middle" fontSize={15.5} fill={TXT}>Simulated</text>
      </g>
    </svg>
  );
}
